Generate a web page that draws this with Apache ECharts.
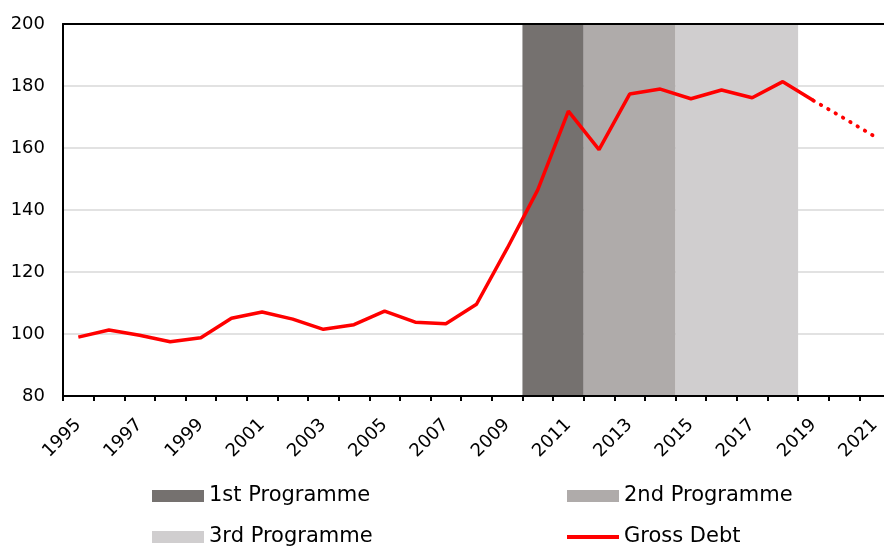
<!DOCTYPE html>
<html>
<head>
<meta charset="utf-8">
<script src="https://cdn.jsdelivr.net/npm/echarts@6/dist/echarts.min.js"></script>
<style>
html,body{margin:0;padding:0;background:#fff;}
#chart{width:884px;height:546px;}
</style>
</head>
<body>
<div id="chart"></div>
<script>
const years = ['1995','1996','1997','1998','1999','2000','2001','2002','2003','2004','2005','2006','2007','2008','2009','2010','2011','2012','2013','2014','2015','2016','2017','2018','2019','2020','2021'];
const grossDebt = [99.0,101.3,99.6,97.5,98.8,105.1,107.1,104.8,101.5,103.0,107.4,103.8,103.3,109.6,127.6,146.5,171.9,159.5,177.4,179.0,175.9,178.7,176.2,181.4,175.3,null,null];
const projection = [null,null,null,null,null,null,null,null,null,null,null,null,null,null,null,null,null,null,null,null,null,null,null,null,175.3,169.6,163.7];
// programme periods: first and last year covered
const programme1 = ['2010','2011'];
const programme2 = ['2012','2014'];
const programme3 = ['2015','2018'];
const shadeTop = 200;
const yTicks = [80,100,120,140,160,180,200];

const chart = echarts.init(document.getElementById('chart'), null, {renderer:'canvas'});
const font = 'DejaVu Sans';
function mkLegend(name, left, top, extra){
  return Object.assign({
    data:[{name:name, icon:'rect'}], left:left, top:top, padding:0, orient:'horizontal',
    itemWidth:52, itemHeight:12, itemGap:5,
    textStyle:{fontFamily:font, fontSize:21, color:'#000', lineHeight:22}
  }, extra||{});
}
const colors = {p1:'#75716f', p2:'#afabaa', p3:'#d0cecf', debt:'#ff0000'};
// shaded period drawn on a hidden value x axis spanning the category bands
function shadeSeries(name, period, color){
  const start = years.indexOf(period[0]);
  const end = years.indexOf(period[1]) + 1;
  return {name:name, type:'line', xAxisIndex:2, data:[[start, shadeTop],[end, shadeTop]],
    symbol:'none', z:1,
    lineStyle:{width:0, color:color}, itemStyle:{color:color},
    areaStyle:{color:color, opacity:1, origin:'start'}};
}
chart.setOption({
  animation:false,
  backgroundColor:'#fff',
  grid:{left:63, right:-6, top:24, bottom:150, outerBoundsMode:'none', containLabel:false},
  legend:[
    mkLegend('1st Programme', 152, 485),
    mkLegend('3rd Programme', 152, 526),
    mkLegend('2nd Programme', 567, 485),
    mkLegend('Gross Debt', 567, 526, {itemHeight:4})
  ],
  xAxis:[{
    type:'category', data:years, boundaryGap:true, position:'bottom', z:5,
    axisLine:{show:true, lineStyle:{color:'#000', width:2}},
    axisTick:{show:true, interval:0, length:5, lineStyle:{color:'#000', width:2}},
    axisLabel:{interval:1, rotate:45, fontFamily:font, fontSize:18, color:'#000', margin:26},
    splitLine:{show:false}
  },{
    type:'category', data:years, position:'top', z:5,
    axisLine:{show:true, onZero:false, lineStyle:{color:'#000', width:2}},
    axisTick:{show:false}, axisLabel:{show:false}, splitLine:{show:false}
  },{
    type:'value', min:0, max:years.length, show:false, position:'bottom'
  }],
  yAxis:{
    type:'value', min:yTicks[0], max:yTicks[yTicks.length-1], interval:20,
    axisLine:{show:true, lineStyle:{color:'#000', width:2}},
    axisTick:{show:false},
    axisLabel:{fontFamily:font, fontSize:18, color:'#000', margin:18},
    splitLine:{show:true, lineStyle:{color:'#d9d9d9', width:1.5}}
  },
  series:[
    shadeSeries('1st Programme', programme1, colors.p1),
    shadeSeries('2nd Programme', programme2, colors.p2),
    shadeSeries('3rd Programme', programme3, colors.p3),
    {name:'Gross Debt', type:'line', data:grossDebt, symbol:'none', z:4, lineStyle:{color:colors.debt, width:3.5}, itemStyle:{color:colors.debt}},
    {name:'Projection', type:'line', data:projection, symbol:'none', z:4, lineStyle:{color:colors.debt, width:3.8, type:[0.5,8], cap:'round'}, itemStyle:{color:colors.debt}}
  ]
});
</script>
</body>
</html>
